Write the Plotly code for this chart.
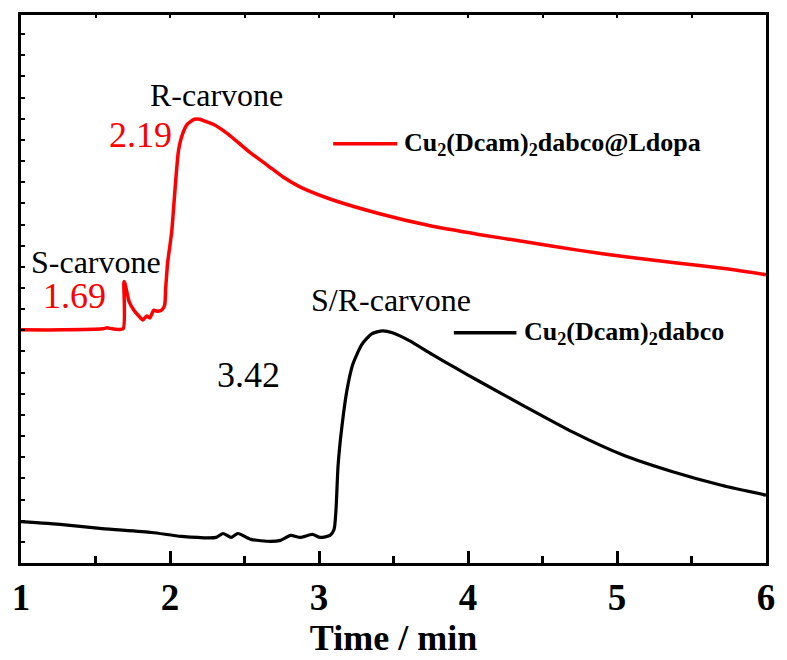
import plotly.graph_objects as go

# Red trace: Cu2(Dcam)2dabco@Ldopa
red_time = [1.000, 1.279, 1.545, 1.578, 1.612, 1.685, 1.691, 1.698, 1.725, 1.758, 1.791, 1.818,
            1.844, 1.864, 1.891, 1.911, 1.944, 1.964, 1.971, 1.984, 2.011, 2.037, 2.057, 2.084,
            2.117, 2.164, 2.200, 2.237, 2.290, 2.390, 2.523, 2.656, 2.762, 2.875, 3.074, 3.407,
            3.739, 4.072, 4.404, 4.737, 5.069, 5.402, 5.734, 6.000]
red_signal = [237, 237, 238, 239, 238, 238, 286, 284, 266, 257, 251, 247,
              251, 249, 257, 256, 257, 262, 279, 305, 336, 386, 419, 436,
              446, 451, 451, 449, 446, 436, 419, 404, 392, 382, 370, 355,
              343, 334, 326, 318, 311, 305, 299, 293]

# Black trace: Cu2(Dcam)2dabco
black_time = [1.000, 1.279, 1.545, 1.878, 2.077, 2.310, 2.356, 2.410, 2.456, 2.543, 2.676, 2.742,
              2.809, 2.875, 2.955, 3.008, 3.074, 3.101, 3.114, 3.128, 3.154, 3.188, 3.227, 3.287,
              3.354, 3.427, 3.493, 3.606, 3.759, 3.919, 4.072, 4.371, 4.704, 5.036, 5.368, 5.701,
              6.000]
black_signal = [42, 39, 35, 31, 27, 26, 30, 26, 30, 24, 22, 23,
                28, 26, 29, 26, 28, 34, 54, 99, 139, 176, 202, 222,
                233, 236, 234, 226, 212, 198, 185, 160, 133, 110, 93, 79,
                69]

x_ticks = [1, 2, 3, 4, 5, 6]

peak_labels = [
    # (time, signal, text, colour, size)
    (2.313, 476, "R-carvone", "black", 32),
    (1.801, 435, "2.19", "#ff0000", 36),
    (1.505, 306, "S-carvone", "black", 32),
    (1.359, 271, "1.69", "#ff0000", 36),
    (3.480, 267, "S/R-carvone", "black", 32),
    (2.529, 191, "3.42", "black", 36),
]

fig = go.Figure()
fig.add_trace(go.Scatter(x=red_time, y=red_signal, mode="lines",
                         line=dict(color="#ff0000", width=3.5, shape="spline", smoothing=0.6),
                         showlegend=False))
fig.add_trace(go.Scatter(x=black_time, y=black_signal, mode="lines",
                         line=dict(color="black", width=3.2, shape="spline", smoothing=0.6),
                         showlegend=False))
# invisible trace for top axis ticks
fig.add_trace(go.Scatter(x=[1, 6], y=[0, 0], xaxis="x2", mode="lines",
                         line=dict(width=0), hoverinfo="skip", showlegend=False))

serif = "Liberation Serif"
for t, s, txt, col, sz in peak_labels:
    fig.add_annotation(x=t, y=s, text=txt, showarrow=False, xanchor="center", yanchor="middle",
                       font=dict(family=serif, size=sz, color=col))

# legend
legend_items = [
    ("Cu<sub>2</sub>(Dcam)<sub>2</sub>dabco@Ldopa", "#ff0000", 0.765, 0.419, 0.505),
    ("Cu<sub>2</sub>(Dcam)<sub>2</sub>dabco", "black", 0.420, 0.581, 0.665),
]
for txt, col, yp, x0, x1 in legend_items:
    fig.add_shape(type="line", xref="paper", yref="paper", x0=x0, x1=x1, y0=yp, y1=yp,
                  line=dict(color=col, width=3.5))
    fig.add_annotation(xref="paper", yref="paper", x=x1 + 0.007, y=yp, text="<b>" + txt + "</b>",
                       showarrow=False, xanchor="left", yanchor="middle",
                       font=dict(family=serif, size=26, color="black"))

fig.update_layout(
    width=787, height=660,
    margin=dict(l=18, r=16, t=12, b=91),
    paper_bgcolor="white", plot_bgcolor="white",
    xaxis=dict(range=[1, 6], tickvals=x_ticks, ticktext=[str(v) for v in x_ticks],
               ticks="inside", ticklen=12, tickwidth=3, tickcolor="black",
               minor=dict(dtick=0.5, ticks="inside", ticklen=7, tickwidth=3, tickcolor="black"),
               showline=True, linewidth=3, linecolor="black", mirror=True,
               showgrid=False, zeroline=False,
               tickfont=dict(family=serif, size=37, color="black", weight="bold"),
               title=dict(text="<b>Time / min</b>", font=dict(family=serif, size=36, color="black"),
                          standoff=4)),
    xaxis2=dict(range=[1, 6], overlaying="x", side="top", dtick=0.5, tick0=1,
                ticks="inside", ticklen=3, tickwidth=2, tickcolor="black",
                showticklabels=False, showgrid=False, zeroline=False, showline=False),
    yaxis=dict(range=[0, 557], tick0=0, dtick=21.5, ticks="inside", ticklen=4, tickwidth=2,
               tickcolor="black", showticklabels=False,
               showline=True, linewidth=3, linecolor="black", mirror=True,
               showgrid=False, zeroline=False),
)

fig.write_html("out.html")
